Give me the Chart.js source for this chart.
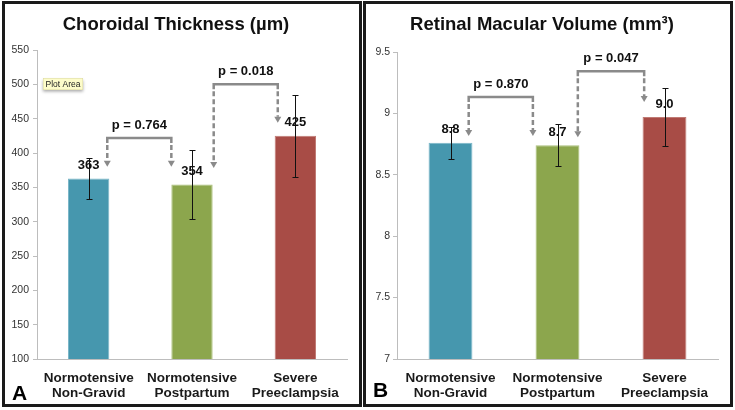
<!DOCTYPE html>
<html>
<head>
<meta charset="utf-8">
<script src="https://cdn.jsdelivr.net/npm/chart.js@4.4.1/dist/chart.umd.min.js"></script>
<style>
  html, body { margin: 0; padding: 0; background: #fff; }
  .panel { position: absolute; top: 1px; height: 400px; border: 3px solid #1a1a1a; background: #fff; }
  #panelA { left: 2px; width: 354px; }
  #panelB { left: 363px; width: 364px; }
  canvas { display: block; }
</style>
</head>
<body>
<div class="panel" id="panelA"><canvas id="chartA" width="354" height="400"></canvas></div>
<div class="panel" id="panelB"><canvas id="chartB" width="364" height="400"></canvas></div>
<script>
const FONT = "'Liberation Sans', Arial, sans-serif";

const categories = [['Normotensive', 'Non-Gravid'], ['Normotensive', 'Postpartum'], ['Severe', 'Preeclampsia']];
const barColors = ['#4697ae', '#8ca64d', '#a84c46'];
const barEdges = ['#7ab6c8', '#aabf7a', '#c07a74'];

// panel A - choroidal thickness (µm)
const thicknessValues = [363, 354, 425];
const thicknessErrors = [30, 50, 60];
const thicknessTicks = { min: 100, max: 550, step: 50 };

// panel B - retinal macular volume (mm³)
const volumeValues = [8.76, 8.74, 8.97];
const volumeErrors = [0.13, 0.17, 0.235];
const volumeTicks = { min: 7, max: 9.5, step: 0.5 };

// p-value brackets: x in category units, y in data units
const thicknessBrackets = [
    { label: 'p = 0.764', from: 0.18, to: 0.8, top: 422, ends: [380, 380] },
    { label: 'p = 0.018', from: 1.21, to: 1.83, top: 500, ends: [378, 444] }
];
const volumeBrackets = [
    { label: 'p = 0.870', from: 0.17, to: 0.77, top: 9.134, ends: [8.815, 8.815] },
    { label: 'p = 0.047', from: 1.19, to: 1.81, top: 9.343, ends: [8.806, 9.093] }
];

const extrasPlugin = {
    id: 'extras',
    afterDatasetsDraw(chart, args, opts) {
        const ctx = chart.ctx;
        const xs = chart.scales.x, ys = chart.scales.y;
        const meta = chart.getDatasetMeta(0);
        const values = chart.data.datasets[0].data;
        ctx.save();

        // error bars
        ctx.strokeStyle = '#111';
        ctx.lineWidth = 1;
        meta.data.forEach((bar, i) => {
            const v = values[i], e = opts.errors[i];
            const top = Math.round(ys.getPixelForValue(v + e)) + 0.5;
            const bot = Math.round(ys.getPixelForValue(v - e)) + 0.5;
            const cx = Math.round(bar.x) + 0.5;
            ctx.beginPath();
            ctx.moveTo(cx, top); ctx.lineTo(cx, bot);
            ctx.moveTo(cx - 3, top); ctx.lineTo(cx + 3, top);
            ctx.moveTo(cx - 3, bot); ctx.lineTo(cx + 3, bot);
            ctx.stroke();
        });

        // value labels
        ctx.fillStyle = '#111';
        ctx.font = 'bold 13px ' + FONT;
        ctx.textAlign = 'center';
        ctx.textBaseline = 'middle';
        meta.data.forEach((bar, i) => {
            ctx.fillText(values[i].toFixed(opts.decimals), bar.x, bar.y - 13);
        });

        // brackets with dashed arrows
        opts.brackets.forEach(b => {
            const x1 = xs.getPixelForValue(b.from), x2 = xs.getPixelForValue(b.to);
            const yt = ys.getPixelForValue(b.top);
            const tips = [[x1, ys.getPixelForValue(b.ends[0])], [x2, ys.getPixelForValue(b.ends[1])]];
            ctx.strokeStyle = '#8a8a8a';
            ctx.fillStyle = '#8a8a8a';
            ctx.lineWidth = 2.5;
            ctx.setLineDash([]);
            ctx.beginPath();
            ctx.moveTo(x1, yt + 5); ctx.lineTo(x1, yt); ctx.lineTo(x2, yt); ctx.lineTo(x2, yt + 5);
            ctx.stroke();
            tips.forEach(([px, py]) => {
                ctx.setLineDash([5, 3]);
                ctx.beginPath();
                ctx.moveTo(px, yt + 7); ctx.lineTo(px, py - 6);
                ctx.stroke();
                ctx.setLineDash([]);
                ctx.beginPath();
                ctx.moveTo(px - 3.5, py - 6); ctx.lineTo(px + 3.5, py - 6); ctx.lineTo(px, py);
                ctx.closePath();
                ctx.fill();
            });
            ctx.fillStyle = '#111';
            ctx.font = 'bold 13px ' + FONT;
            ctx.fillText(b.label, (x1 + x2) / 2, yt - 12.5);
        });

        // panel letter
        ctx.fillStyle = '#000';
        ctx.font = 'bold 21px ' + FONT;
        ctx.textAlign = 'left';
        ctx.textBaseline = 'alphabetic';
        ctx.fillText(opts.letter, 7, opts.letterY);

        // leftover "Plot Area" hover note
        if (opts.note) {
            const nx = chart.chartArea.left + 6, ny = chart.chartArea.top + 28;
            ctx.shadowColor = 'rgba(0,0,0,0.35)';
            ctx.shadowBlur = 3;
            ctx.shadowOffsetY = 1.5;
            ctx.fillStyle = '#fdfcca';
            ctx.fillRect(nx, ny, 40, 12);
            ctx.shadowColor = 'transparent';
            ctx.strokeStyle = '#d8d6a0';
            ctx.lineWidth = 0.5;
            ctx.strokeRect(nx + 0.25, ny + 0.25, 39.5, 11.5);
            ctx.fillStyle = '#222';
            ctx.font = '8.5px ' + FONT;
            ctx.textAlign = 'center';
            ctx.textBaseline = 'middle';
            ctx.fillText(opts.note, nx + 20, ny + 6.5);
        }
        ctx.restore();
    }
};

function makeChart(id, cfg) {
    return new Chart(document.getElementById(id), {
        type: 'bar',
        data: {
            labels: categories,
            datasets: [{
                data: cfg.values,
                backgroundColor: barColors,
                borderColor: barEdges,
                borderWidth: 1,
                barPercentage: cfg.barPct,
                categoryPercentage: 1
            }]
        },
        options: {
            responsive: false,
            animation: false,
            layout: { padding: { left: 0, right: 12, top: 0, bottom: 0 } },
            plugins: {
                legend: { display: false },
                tooltip: { enabled: false },
                title: {
                    display: true,
                    text: cfg.title,
                    color: '#111',
                    font: { family: FONT, size: 18.5, weight: 'bold' },
                    padding: { top: 10, bottom: cfg.titleGap }
                },
                extras: {
                    errors: cfg.errors,
                    decimals: cfg.decimals,
                    brackets: cfg.brackets,
                    letter: cfg.letter,
                    letterY: cfg.letterY,
                    note: cfg.note
                }
            },
            scales: {
                x: {
                    grid: { display: false, drawTicks: false },
                    border: { display: true, color: '#bdbdbd', width: 1 },
                    ticks: {
                        color: '#1a1a1a',
                        padding: 11.5,
                        maxRotation: 0,
                        autoSkip: false,
                        font: { family: FONT, size: 13.5, weight: 'bold', lineHeight: 15 / 13.5 }
                    },
                    afterFit: s => { s.height = 45; }
                },
                y: {
                    min: cfg.ticks.min,
                    max: cfg.ticks.max,
                    grid: { drawOnChartArea: false, drawTicks: true, tickLength: 4, color: '#bdbdbd' },
                    border: { display: true, color: '#bdbdbd', width: 1 },
                    ticks: {
                        stepSize: cfg.ticks.step,
                        color: '#333',
                        padding: cfg.tickPad,
                        font: { family: FONT, size: 10.5 },
                        callback: v => String(v)
                    },
                    afterFit: s => { s.width = cfg.axisWidth; }
                }
            }
        },
        plugins: [extrasPlugin]
    });
}

makeChart('chartA', {
    title: 'Choroidal Thickness (µm)',
    values: thicknessValues,
    errors: thicknessErrors,
    ticks: thicknessTicks,
    brackets: thicknessBrackets,
    decimals: 0,
    barPct: 0.4,
    titleGap: 13.8,
    axisWidth: 32,
    tickPad: 4,
    letter: 'A',
    letterY: 396,
    note: 'Plot Area'
});

makeChart('chartB', {
    title: 'Retinal Macular Volume (mm³)',
    values: volumeValues,
    errors: volumeErrors,
    ticks: volumeTicks,
    brackets: volumeBrackets,
    decimals: 1,
    barPct: 0.41,
    titleGap: 15.8,
    axisWidth: 31,
    tickPad: 3,
    letter: 'B',
    letterY: 393,
    note: null
});
</script>
</body>
</html>
